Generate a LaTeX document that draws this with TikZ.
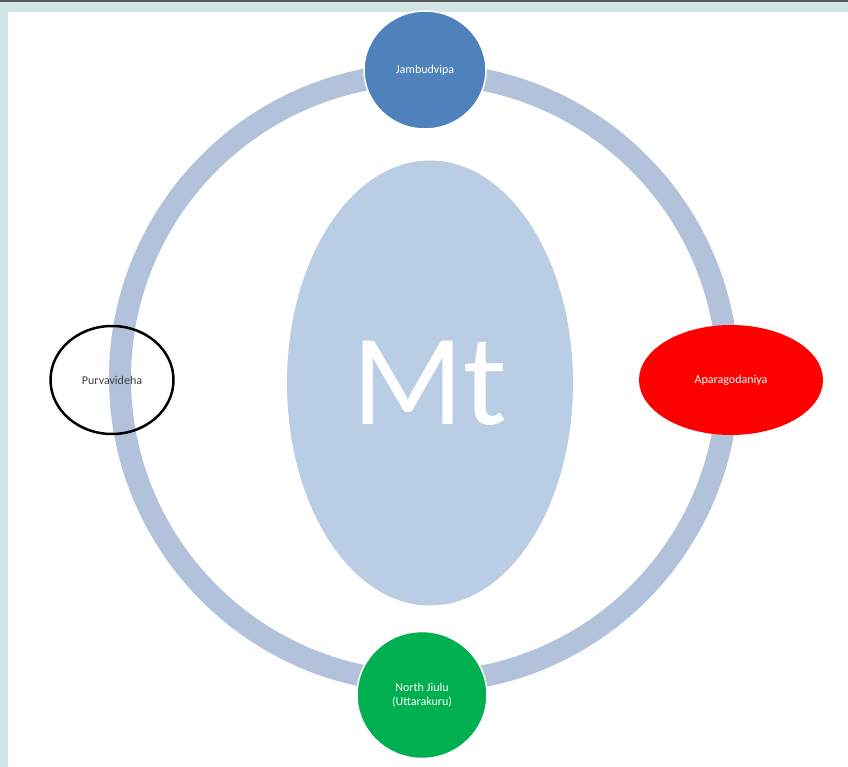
\documentclass[tikz,border=0pt]{standalone}
\usepackage{fontspec}
\setmainfont{Carlito}
\usetikzlibrary{shapes.geometric}
\definecolor{bandcol}{HTML}{D3E5E3}
\definecolor{ringcol}{HTML}{B3C2DB}
\definecolor{mountcol}{HTML}{B9CDE5}
\definecolor{jambucol}{HTML}{4F81BD}
\definecolor{greencol}{HTML}{00B050}
\tikzset{
  land/.style={ellipse, inner sep=0pt, align=center, font=\fontsize{12}{14}\selectfont},
}
\begin{document}
\begin{tikzpicture}[x=1pt, y=-1pt]
            \useasboundingbox (0,0) rectangle (848,767);
            \fill[bandcol] (0,0) rectangle (848,767);
            \fill[white] (8,12) rectangle (848,767);
            \fill[black!65] (0,0) rectangle (848,2);

            \coordinate (center) at (424,378);
            \draw[ringcol, line width=22pt] (center) circle[radius=304pt];

            \node (mount) [ellipse, fill=mountcol, minimum width=286pt, minimum height=445pt, font=\fontsize{130}{130}\selectfont, text=white] at (430,383) {Mt};

            \node (jambu) [land, fill=jambucol, draw=white, line width=1.5pt, minimum width=122pt, minimum height=118pt, text=white] at (425,70) {Jambudvipa};
            \node (purva) [land, draw=black, line width=2.5pt, minimum width=123pt, minimum height=108pt, text=black!75] at (112,380) {Purvavideha};
            \node (apara) [land, fill=red, minimum width=184pt, minimum height=110pt, text=white] at (731,380) {Aparagodaniya};
            \node (uttara) [land, fill=greencol, draw=white, line width=1.5pt, minimum width=130pt, minimum height=127pt, text=white] at (422,695) {North Jiulu\\(Uttarakuru)};
        \end{tikzpicture}
\end{document}
